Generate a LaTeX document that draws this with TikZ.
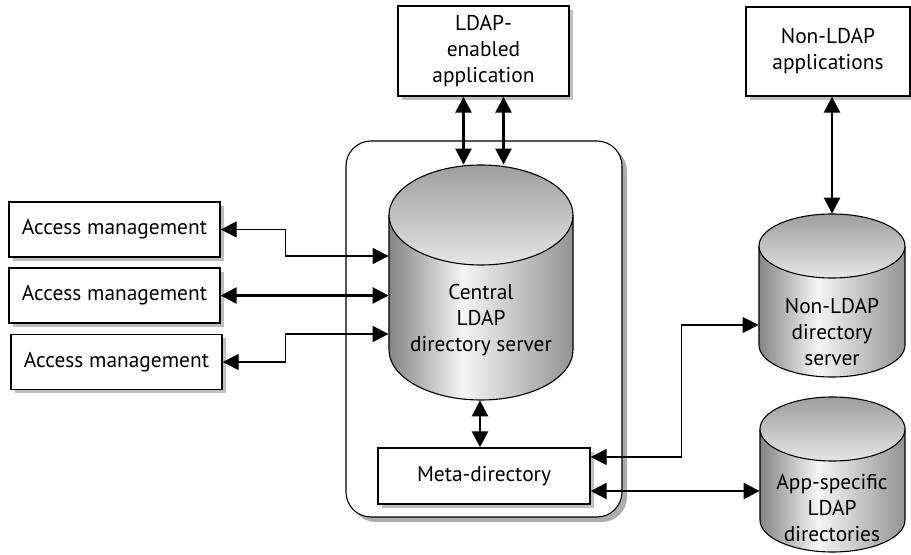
\documentclass[tikz,border=0pt]{standalone}
\usepackage{fontspec}
\setmainfont{PT Sans}
\usetikzlibrary{arrows.meta,shadows}
\pgfdeclarehorizontalshading{cylbody}{100bp}{color(0bp)=(black!48); color(25bp)=(black!48); color(45bp)=(black!4); color(75bp)=(black!42); color(100bp)=(black!42)}

\begin{document}
\begin{tikzpicture}[x=0.5pt,y=-0.5pt,
  font=\fontsize{10.7}{13}\selectfont,
  box/.style={draw,line width=0.7pt,fill=white,align=center,inner sep=0pt,
    drop shadow={shadow xshift=2pt,shadow yshift=-2pt,fill=black!25,opacity=1}},
  frame/.style={draw,line width=0.55pt,fill=white,rounded corners=12.5pt,
    drop shadow={shadow xshift=2.5pt,shadow yshift=-2.5pt,fill=black!32,opacity=1}},
  cyl/.style={inner sep=0pt},
  lbl/.style={align=center},
  link/.style={{Triangle[length=8pt,width=8pt]}-{Triangle[length=8pt,width=8pt]},line width=0.65pt},
  biglink/.style={link,line width=1.3pt}]
  \useasboundingbox (0,0) rectangle (911,555);
  \node[frame,minimum width=138pt,minimum height=188pt] (core) at (484,329) {};
  \foreach \n/\l/\r/\t/\b/\ry in {cen/389/573/165/400/50, nl/759/905/214/377/32, as/760/905/397/552/32}{
    \shade[shading=cylbody] ({\l},{\t+\ry}) -- ({\l},{\b-\ry}) arc[start angle=180,end angle=0,x radius={(\r-\l)/2},y radius=\ry] -- ({\r},{\t+\ry}) -- cycle;
    \draw[line width=0.55pt] ({\l},{\t+\ry}) -- ({\l},{\b-\ry}) arc[start angle=180,end angle=0,x radius={(\r-\l)/2},y radius=\ry] -- ({\r},{\t+\ry});
    \draw[top color=black!38,bottom color=black!10,line width=0.55pt] ({(\l+\r)/2},{\t+\ry}) ellipse [x radius={(\r-\l)/2},y radius=\ry];
    \node[cyl,minimum width={(\r-\l)*0.5pt},minimum height={(\b-\t)*0.5pt}] (\n) at ({(\l+\r)/2},{(\t+\b)/2}) {};
  }
  \node[lbl] (centxt) at (481,320) {Central\\LDAP\\directory server};
  \node[lbl] (nltxt) at (832,332) {Non-LDAP\\directory\\server};
  \node[lbl] (astxt) at (832,508) {App-specific\\LDAP\\directories};
  \node[box,minimum width=85.5pt,minimum height=45pt] (app) at (483.5,51) {LDAP-\\enabled\\application};
  \node[box,minimum width=82pt,minimum height=44.5pt] (nonapp) at (828,51.5) {Non-LDAP\\applications};
  \foreach \i/\x/\y in {1/114.5/229.5, 2/114.5/295.5, 3/116.5/362}
    \node[box,minimum width=105.5pt,minimum height=27.5pt] (am\i) at (\x,\y) {Access management};
  \node[box,minimum width=106pt,minimum height=28pt] (meta) at (484,476) {Meta-directory};
  \coordinate (ap1) at ([xshift=-10pt]app.south);
  \coordinate (ap2) at ([xshift=10pt]app.south);
  \coordinate (cin1) at ([yshift=13.25pt]cen.west);
  \coordinate (cin3) at ([yshift=-25.75pt]cen.west);
  \coordinate (cdn) at ([xshift=-2pt]meta.north);
  \coordinate (mo1) at ([yshift=9.5pt]meta.east);
  \coordinate (mo2) at ([yshift=-7.5pt]meta.east);
  \coordinate (nlin) at ([yshift=-14.75pt]nl.west);
  \draw[biglink] (ap1) -- (ap1 |- cen.north);
  \draw[biglink] (ap2) -- (ap2 |- cen.north);
  \draw[link] (am1.east) -- ++(65,0) |- (cin1);
  \draw[biglink] (am2.east) -- (am2.east -| cen.west);
  \draw[link] (am3.east) -- ++(63,0) |- (cin3);
  \draw[biglink] (cdn |- cen.south) -- (cdn);
  \draw[link] (mo1) -- ++(91,0) |- (nlin);
  \draw[biglink] (mo2) -- (mo2 -| as.west);
  \draw[biglink] (nl.north |- nonapp.south) -- (nl.north);
\end{tikzpicture}
\end{document}
